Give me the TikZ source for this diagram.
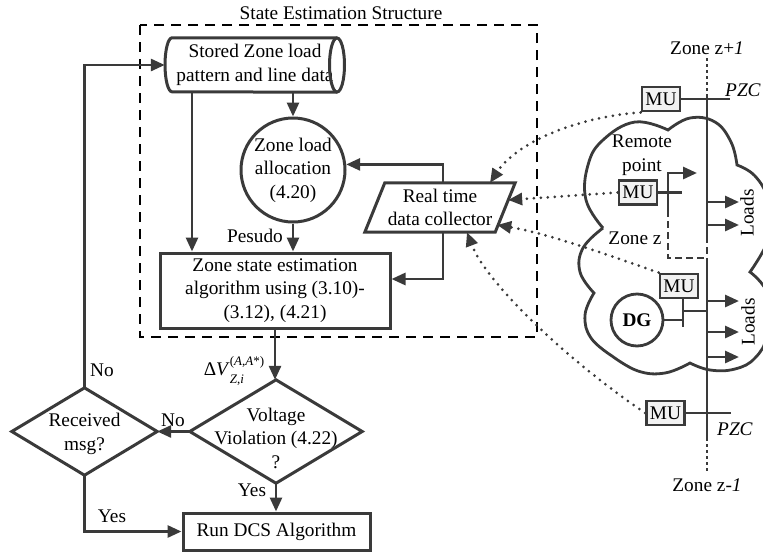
\documentclass[tikz,border=0pt]{standalone}
\usepackage{fontspec}
\setmainfont{Liberation Serif}
\usetikzlibrary{arrows.meta,calc}
\definecolor{ink}{HTML}{3A3A3A}
\definecolor{mufill}{HTML}{F2F2F2}
\newcommand{\mainsize}{\fontsize{19.3}{23.5}\selectfont}
\newcommand{\scriptsz}{\fontsize{13}{13}\selectfont}
\begin{document}
\begin{tikzpicture}[x=1pt,y=-1pt,
  every node/.style={font=\mainsize, inner sep=0pt},
  line/.style={draw=ink, line width=2.8pt},
  tip/.style={-{Triangle[length=14pt,width=12pt]}},
  arr/.style={line, tip},
  box/.style={draw=ink, line width=3pt},
  mubox/.style={draw=ink, fill=mufill, line width=2.8pt, minimum width=38pt, minimum height=24pt},
  dotarr/.style={draw=ink, line width=3pt, dash pattern=on 0pt off 7pt, line cap=round, tip},
  busdots/.style={line, dash pattern=on 3pt off 3pt},
  zonedash/.style={line, dash pattern=on 7pt off 4pt},
]
\useasboundingbox (0,0) rectangle (763,552);

% ---------- state estimation block ----------
\node (title) at (341,13) {State Estimation Structure};
\draw[black, line width=2.2pt, dash pattern=on 10pt off 7pt] (140,25) rectangle (537,337);

% stored data (horizontal cylinder)
\node[minimum width=180pt, minimum height=54pt, align=center] (store) at (255,65)
  {Stored Zone load\\pattern and line data};
\draw[box] ([xshift=82pt]store.north) -- ([xshift=-83pt]store.north)
  arc[start angle=270, end angle=90, x radius=7, y radius=27]
  -- ([xshift=82pt]store.south);
\draw[box] ([xshift=82pt]store.center) ellipse [x radius=7.5, y radius=27];

% zone load allocation
\node[circle, box, minimum size=104pt, align=center] (alloc) at (293,170)
  {Zone load\\allocation\\(4.20)};

% zone state estimation
\node[box, minimum width=230pt, minimum height=75pt, align=center] (zse) at (275,290.5)
  {Zone state estimation\\algorithm using (3.10)-\\(3.12), (4.21)};

% real time data collector (parallelogram)
\node[minimum width=130pt, minimum height=49pt, align=center] (rtc) at (440,207.5)
  {Real time\\data collector};
\draw[box] ([xshift=10pt]rtc.north west) -- ([xshift=10pt]rtc.north east)
  -- ([xshift=-10pt]rtc.south east) -- ([xshift=-10pt]rtc.south west) -- cycle;

% decisions
\node[minimum width=172pt, minimum height=103pt] (volt) at (276,431.5) {};
\draw[box] (volt.north) -- (volt.east) -- (volt.south) -- (volt.west) -- cycle;
\node[align=center] (volttext) at (276,438) {Voltage\\Violation (4.22)\\?};

\node[minimum width=145pt, minimum height=87pt] (recv) at (84.5,431.5) {};
\draw[box] (recv.north) -- (recv.east) -- (recv.south) -- (recv.west) -- cycle;
\node[align=center] (recvtext) at (84.5,434) {Received\\msg?};

\node[box, minimum width=187pt, minimum height=37pt] (run) at (276.5,531.5) {Run DCS Algorithm};

% flow connectors
\draw[arr] ([xshift=-63pt]store.south) -- ([xshift=-83pt]zse.north);
\draw[arr] (alloc |- store.south) -- (alloc.north);
\draw[arr] (alloc.south) -- (alloc.south |- zse.north);
\draw[arr] ([xshift=3pt]rtc.north) |- (alloc.6);
\draw[arr] ([xshift=3pt]rtc.south) |- ([yshift=11.5pt]zse.east);
\draw[arr] (zse.south) -- (zse.south |- volt.north);
\draw[arr] (volt.west) -- (recv.east);
\draw[arr] (recv.north) |- (store.west);
\draw[arr] (recv.south) |- (run.west);
\draw[arr] (volt.south) -- (volt.south |- run.north);

% connector labels
\node (pes) at (255,236) {Pesudo};
\node (dv) at (234,371) {Δ\textit{V}\rlap{\raisebox{-0.42em}{\scriptsz\textit{Z},\textit{i}}}\raisebox{0.55em}{\scriptsz(\textit{A},\textit{A}*)}};
\node (noA) at (173,420) {No};
\node (noB) at (102,370) {No};
\node (yesA) at (252,490) {Yes};
\node (yesB) at (112,516) {Yes};

% ---------- zone network ----------
\draw[line]
  plot[smooth, tension=0.7] coordinates {(603,228) (586,200) (588,165) (603,140) (635,122) (668,130)}
  -- plot[smooth, tension=0.7] coordinates {(668,130) (690,118) (715,122) (731,142) (737,165)}
  -- plot[smooth, tension=0.7] coordinates {(737,165) (755,176) (768,200) (770,235) (750,272)}
  -- plot[smooth, tension=0.7] coordinates {(750,272) (768,295) (767,335) (755,358) (735,369) (710,370) (690,363)}
  -- plot[smooth, tension=0.7] coordinates {(690,363) (665,373) (638,371) (612,356)}
  -- plot[smooth, tension=0.7] coordinates {(612,356) (591,338) (585,315) (594,293)}
  -- plot[smooth, tension=0.7] coordinates {(594,293) (580,272) (583,248) (603,228)};

% bus
\draw[busdots] (707,58) -- (707,97);
\draw[line] (707,97) -- (707,236);
\draw[zonedash] (707,236) -- (707,262);
\draw[line] (707,262) -- (707,438);
\draw[busdots] (707,438) -- (707,472);

% measurement units
\node[mubox] (mu1) at (661,99) {MU};
\node[mubox] (mu2) at (638,192.5) {MU};
\node[mubox] (mu3) at (679,286) {MU};
\node[mubox] (mu4) at (665.5,413) {MU};
\node[circle, draw=ink, line width=2.8pt, minimum size=52pt, font=\mainsize\bfseries] (dg) at (637,320) {DG};

% zone boundaries
\draw[line] (mu1.east) -- (730,99);
\draw[line] (mu4.east) -- (731,413);

% remote point
\draw[line] (mu2.east) -- (682,192.5);
\draw[arr] (668,210) -- (668,173) -- (697,173);
\draw[zonedash] (668,210) -- (668,258) -- (707,258);

% DG connection
\draw[line] (dg.east) -- (683,320);
\draw[line] ([xshift=4pt]mu3.south) -- (683,327);
\draw[line] (683,311) -- (707,311);

% loads
\foreach \yy in {202,225,301,332,357} \draw[arr] (707,\yy) -- (739,\yy);
\node[rotate=90] (ldA) at (747,213) {Loads};
\node[rotate=90] (ldB) at (748,322) {Loads};

% labels
\node[align=center] (rp) at (642,155) {Remote\\point};
\node (zz) at (635,238) {Zone z};
\node (zup) at (707,48) {Zone z+\textit{1}};
\node (zdn) at (707,485) {Zone z-\textit{1}};
\node (pzcA) at (743,90) {\textit{PZC}};
\node (pzcB) at (735,429) {\textit{PZC}};

% measurement links to the data collector
\draw[dotarr] (mu1.south west) .. controls (570,118) and (515,145) .. ([xshift=50pt]rtc.north);
\draw[dotarr] (mu2.west) -- ([xshift=3pt,yshift=7.5pt]rtc.east);
\draw[dotarr] (mu3.north west) .. controls (600,252) and (545,233) .. ([xshift=-8pt,yshift=-17.5pt]rtc.east);
\draw[dotarr] (mu4.west) .. controls (560,355) and (485,280) .. ([xshift=27pt]rtc.south);
\end{tikzpicture}
\end{document}
